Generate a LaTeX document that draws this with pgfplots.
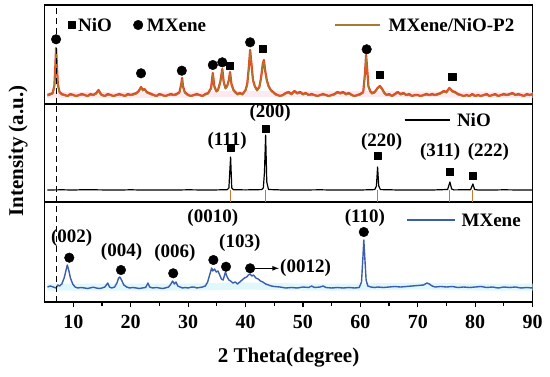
\documentclass[border=0pt]{standalone}
\usepackage{pgfplots}
\pgfplotsset{compat=1.18}
\usepackage{fontspec}
\setmainfont{Liberation Serif}
\definecolor{cRed}{HTML}{E8431E}
\definecolor{cBrown}{HTML}{A87A30}
\definecolor{cBlue}{HTML}{3A5DAE}
\definecolor{cHaloB}{HTML}{D8F5FB}
\definecolor{cHaloR}{HTML}{FCE0EA}
\definecolor{cRef}{HTML}{C87832}
\pgfplotsset{
  panel/.style={scale only axis, width=488pt, xmin=5, xmax=90, ymin=0,
    ytick=\empty, axis line style={line width=1.3pt}, clip=false,
    every axis plot/.append style={line join=round}},
  nolab/.style={xtick=\empty}
}
\begin{document}
\fontsize{19}{23}\selectfont\bfseries
\begin{tikzpicture}
\path[use as bounding box] (-44.6pt,-74pt) rectangle (505.4pt,302pt);
% ---------------- bottom: MXene ----------------
\begin{axis}[panel, at={(0pt,0pt)}, anchor=south west, height=100pt, ymax=100,
  xtick={10,20,...,90}, minor x tick num=1, tick pos=bottom, xtick align=outside,
  major tick length=5pt, minor tick length=4pt, tick style={line width=1.2pt,black},
  /pgf/number format/assume math mode=true,
  xticklabel style={font=\fontsize{20}{24}\selectfont\bfseries, yshift=-2pt},
  xlabel={2 Theta(degree)}, xlabel style={font=\fontsize{21}{24}\selectfont\bfseries, yshift=-6pt}]
\addplot[cHaloB, line width=7pt, opacity=0.8] coordinates {(5.5,15) (10,15) (20,15) (30,15) (40,16) (50,15) (60,15) (70,16) (80,15) (90,15)};
\addplot[cBlue, line width=1.4pt] coordinates {
(5.5,15) (6.0,16) (6.5,15) (7.0,14) (7.3,17) (7.6,16) (8.0,18) (8.4,24) (8.7,31) (8.95,37) (9.2,32) (9.5,24) (9.9,18) (10.3,15) (10.8,14) (11.3,14.5) (12,14) (12.5,13.5) (13,14.2) (13.5,14.8) (14,14) (14.5,13.5) (15,14) (15.5,15) (16.0,19) (16.3,15) (16.7,14) (17.2,15) (17.6,19) (17.9,24) (18.1,25) (18.4,22) (18.8,17) (19.3,15) (19.8,14) (20.3,14.5) (21,14) (21.5,13.5) (22,14) (22.6,14.5) (23.0,19) (23.3,15) (23.8,14) (24.5,14.5) (25,14) (25.5,13.5) (26,14) (26.6,15) (27.0,18) (27.3,21) (27.6,18) (27.9,20) (28.2,16) (28.6,15) (29,14) (29.5,14.5) (30,14) (30.5,14.8) (31,15) (31.5,14) (32,14.5) (32.5,15) (33,16) (33.4,20) (33.8,28) (34.1,34) (34.3,31) (34.6,33) (34.9,30) (35.2,31) (35.5,27) (35.8,23) (36.1,22) (36.5,30) (36.8,25) (37.1,22) (37.4,21) (37.8,19) (38.2,20) (38.6,18) (39.0,20) (39.4,22) (39.8,24) (40.2,25) (40.5,27) (40.8,28) (41.1,26) (41.4,27) (41.8,24) (42.2,23) (42.6,21) (43.0,20) (43.5,18) (44,17) (44.5,16) (45,15.5) (46,15) (47,14) (48,14.5) (49,14) (50,15) (51,14.5) (51.5,16) (52,14.5) (53,15) (53.5,16) (54,14.5) (55,14) (56,14.5) (57,14) (58,14.5) (59,14) (59.8,14.5) (60.2,20) (60.45,45) (60.6,62) (60.8,42) (61.0,22) (61.3,16) (61.8,15) (62.5,14.5) (63,15) (64,14.5) (65,15) (66,15.5) (67,15) (68,15.5) (69,16) (70,16.5) (71,17) (71.6,19) (72,18) (72.5,16) (73,15) (74,15.5) (75,15) (76,15.5) (77,14.5) (78,15) (79,14.5) (80,15) (81,15.5) (82,14.5) (83,15) (84,14) (85,15) (86,14.5) (87,15) (88,14) (89,14.5) (90,14)};
\addplot[black, line width=1pt, dash pattern=on 6pt off 4pt] coordinates {(7,0) (7,100)};
\addplot[only marks, mark=*, mark size=4.8pt, black] coordinates {(9.3,44.3) (18.3,32) (27.4,28.7) (34.4,42) (36.6,35.3) (40.8,33.7) (60.6,70)};
\draw[->, >=latex, line width=1.2pt] (axis cs:41.6,33.7) -- (axis cs:45.8,33.7);
\node at (axis cs:9.7,64) {(002)};
\node at (axis cs:18.4,50) {(004)};
\node at (axis cs:27.7,49) {(006)};
\node at (axis cs:34.3,84) {(0010)};
\node at (axis cs:39.0,59) {(103)};
\node[anchor=west, inner sep=0pt] at (axis cs:46.0,33.7) {(0012)};
\node at (axis cs:60.8,84) {(110)};
\draw[cBlue, line width=1.4pt] (axis cs:68.1,82) -- (axis cs:76.4,82);
\node[anchor=west, inner sep=0pt] at (axis cs:77.6,82) {MXene};
\end{axis}
% ---------------- middle: NiO ----------------
\begin{axis}[panel, nolab, at={(0pt,100pt)}, anchor=south west, height=98pt, ymax=98]
\addplot[cRef, ycomb, line width=1pt] coordinates {(37.4,12) (43.5,12) (63.0,12) (75.6,12) (79.6,12)};
\addplot[black, line width=1.2pt] coordinates {
(5.5,12) (8,12.2) (10,12) (12,12.3) (15,12.1) (18,12) (20,12.2) (22,12) (25,12.1) (28,12) (30,12.2) (33,12) (35,12.1) (36.8,12.3) (37.1,14) (37.4,45) (37.6,14) (37.9,12.3) (40,12.1) (42.8,12.4) (43.1,14) (43.3,30) (43.5,67) (43.7,20) (44.0,12.5) (46,12.1) (50,12) (53,12.2) (55,12) (58,12.1) (60,12) (62.5,12.4) (62.8,16) (63.0,35) (63.2,16) (63.5,12.4) (66,12.1) (70,12) (73,12.1) (75.2,12.5) (75.6,20) (75.9,13) (76.3,12.1) (79.2,12.3) (79.6,18) (79.9,12.5) (80.4,12.1) (83,12) (85,12.2) (88,12) (90,12.1)};
\addplot[black, line width=1pt, dash pattern=on 6pt off 4pt] coordinates {(7,0) (7,98)};
\addplot[only marks, mark=square*, mark size=3.6pt, black] coordinates {(37.4,54) (43.5,73) (63.0,46) (75.6,30) (79.6,26)};
\node at (axis cs:36.8,61) {(111)};
\node at (axis cs:44.3,89) {(200)};
\node at (axis cs:63.7,60) {(220)};
\node at (axis cs:73.9,50) {(311)};
\node at (axis cs:82.3,50) {(222)};
\draw[black, line width=1.4pt] (axis cs:67.7,82) -- (axis cs:75.7,82);
\node[anchor=west, inner sep=0pt] at (axis cs:76.8,82) {NiO};
\end{axis}
% ---------------- top: MXene/NiO-P2 ----------------
\begin{axis}[panel, nolab, at={(0pt,198pt)}, anchor=south west, height=99pt, ymax=99]
\addplot[cHaloR, line width=6pt, opacity=0.7] coordinates {(5.5,9) (20,9) (40,10) (60,10) (90,9)};
\addplot[cRed, line width=2.2pt] coordinates {
(5.5,9) (6.0,10) (6.4,11) (6.7,18) (6.85,35) (7.0,56) (7.15,38) (7.3,20) (7.6,12) (8.0,10) (8.5,9) (9.0,8) (9.5,10) (10.0,9) (10.5,8) (11.0,9) (11.5,10) (12.0,9) (12.5,8) (13.0,10) (13.5,9) (14.0,11) (14.4,14) (14.8,10) (15.0,9) (15.5,8) (16.0,10) (16.5,9) (17.0,8) (17.5,9) (18.0,10) (18.5,9) (19.0,8) (19.5,10) (20.0,9) (20.5,10) (21.0,11) (21.4,13) (21.8,17) (22.1,14) (22.4,15) (22.8,12) (23.2,11) (23.6,10) (24.0,9) (24.5,8) (25.0,10) (25.5,9) (26.0,8) (26.5,9) (27.0,10) (27.5,9) (28.0,10) (28.5,12) (28.8,20) (28.95,26) (29.1,18) (29.4,12) (29.8,10) (30.0,9) (30.5,8) (31.0,9) (31.5,10) (32.0,9) (32.5,8) (33.0,10) (33.5,11) (34.0,16) (34.3,31) (34.55,18) (34.9,13) (35.2,14) (35.6,22) (35.95,35) (36.2,22) (36.5,16) (36.8,18) (37.1,24) (37.3,32) (37.55,20) (37.9,14) (38.2,12) (38.6,10) (39.0,11) (39.5,10) (40.0,14) (40.3,20) (40.55,35) (40.8,54) (41.0,42) (41.3,24) (41.6,18) (42.0,14) (42.4,17) (42.7,26) (43.0,40) (43.2,44) (43.4,34) (43.7,24) (44.0,18) (44.4,14) (44.8,12) (45.2,10) (45.6,9) (46.0,8) (46.5,9) (47.0,11) (47.5,12) (48.0,10) (48.5,13) (49.0,11) (49.5,12) (50.0,10) (50.5,11) (51.0,9) (51.5,10) (52.0,9) (52.5,8) (53.0,9) (53.5,10) (54.0,9) (54.5,8) (55.0,9) (55.5,10) (56.0,12) (56.5,11) (57.0,12) (57.5,10) (58.0,11) (58.5,9) (59.0,8) (59.5,9) (60.0,10) (60.5,12) (60.8,30) (61.0,49) (61.2,34) (61.4,18) (61.7,13) (62.0,11) (62.5,12) (63.0,16) (63.4,18) (63.8,15) (64.2,11) (64.6,9) (65.0,10) (65.5,8) (66.0,10) (66.5,12) (67.0,10) (67.5,11) (68.0,9) (68.5,10) (69.0,8) (69.5,9) (70.0,9) (70.5,8) (71.0,9) (71.5,10) (72.0,9) (72.5,10) (73.0,9) (73.5,10) (74.0,11) (74.5,13) (75.0,12) (75.5,16) (76.0,13) (76.5,12) (77.0,10) (77.5,9) (78.0,8) (78.5,9) (79.0,8) (79.5,10) (80.0,8) (80.5,9) (81.0,8) (81.5,9) (82.0,10) (82.5,8) (83.0,9) (83.5,10) (84.0,8) (84.5,9) (85.0,10) (85.5,9) (86.0,10) (86.5,11) (87.0,9) (87.5,10) (88.0,9) (88.5,8) (89.0,10) (89.5,9) (90.0,10)};
\addplot[cBrown, line width=1.1pt] coordinates {
(5.5,8) (6.0,9) (6.4,10) (6.7,17) (6.85,34) (7.0,55) (7.15,37) (7.3,19) (7.6,11) (8.0,9) (8.5,8.5) (9.0,7.5) (9.5,9) (10.0,8.5) (10.5,7.5) (11.0,8.5) (11.5,9) (12.0,8.5) (12.5,7.5) (13.0,9) (13.5,8.5) (14.0,10) (14.4,13) (14.8,9) (15.0,8.5) (15.5,7.5) (16.0,9) (16.5,8.5) (17.0,7.5) (17.5,8.5) (18.0,9) (18.5,8.5) (19.0,7.5) (19.5,9) (20.0,8.5) (20.5,9) (21.0,10) (21.4,12) (21.8,16) (22.1,13) (22.4,14) (22.8,11) (23.2,10) (23.6,9) (24.0,8.5) (24.5,7.5) (25.0,9) (25.5,8.5) (26.0,7.5) (26.5,8.5) (27.0,9) (27.5,8.5) (28.0,9) (28.5,11) (28.8,19) (28.95,25) (29.1,17) (29.4,11) (29.8,9) (30.0,8.5) (30.5,7.5) (31.0,8.5) (31.5,9) (32.0,8.5) (32.5,7.5) (33.0,9) (33.5,10) (34.0,15) (34.3,30) (34.55,17) (34.9,12) (35.2,13) (35.6,21) (35.95,34) (36.2,21) (36.5,15) (36.8,17) (37.1,23) (37.3,31) (37.55,19) (37.9,13) (38.2,11) (38.6,9) (39.0,10) (39.5,9) (40.0,13) (40.3,19) (40.55,34) (40.8,53) (41.0,41) (41.3,23) (41.6,17) (42.0,13) (42.4,16) (42.7,25) (43.0,39) (43.2,43) (43.4,33) (43.7,23) (44.0,17) (44.4,13) (44.8,11) (45.2,9) (45.6,8.5) (46.0,7.5) (46.5,8.5) (47.0,10) (47.5,11) (48.0,9) (48.5,12) (49.0,10) (49.5,11) (50.0,9) (50.5,10) (51.0,8.5) (51.5,9) (52.0,8.5) (52.5,7.5) (53.0,8.5) (53.5,9) (54.0,8.5) (54.5,7.5) (55.0,8.5) (55.5,9) (56.0,11) (56.5,10) (57.0,11) (57.5,9) (58.0,10) (58.5,8.5) (59.0,7.5) (59.5,8.5) (60.0,9) (60.5,11) (60.8,29) (61.0,48) (61.2,33) (61.4,17) (61.7,12) (62.0,10) (62.5,11) (63.0,15) (63.4,17) (63.8,14) (64.2,10) (64.6,8.5) (65.0,9) (65.5,7.5) (66.0,9) (66.5,11) (67.0,9) (67.5,10) (68.0,8.5) (68.5,9) (69.0,7.5) (69.5,8.5) (70.0,8.5) (70.5,7.5) (71.0,8.5) (71.5,9) (72.0,8.5) (72.5,9) (73.0,8.5) (73.5,9) (74.0,10) (74.5,12) (75.0,11) (75.5,15) (76.0,12) (76.5,11) (77.0,9) (77.5,8.5) (78.0,7.5) (78.5,8.5) (79.0,7.5) (79.5,9) (80.0,7.5) (80.5,8.5) (81.0,7.5) (81.5,8.5) (82.0,9) (82.5,7.5) (83.0,8.5) (83.5,9) (84.0,7.5) (84.5,8.5) (85.0,9) (85.5,8.5) (86.0,9) (86.5,10) (87.0,8.5) (87.5,9) (88.0,8.5) (88.5,7.5) (89.0,9) (89.5,8.5) (90.0,9)};
\addplot[black, line width=1pt, dash pattern=on 6pt off 4pt] coordinates {(7,0) (7,99)};
\addplot[only marks, mark=*, mark size=4.8pt, black] coordinates {(7.0,64.7) (21.8,30.7) (28.9,33.3) (34.3,39) (35.95,41.7) (40.8,61.7) (61.1,54.7) (21.3,79)};
\addplot[only marks, mark=square*, mark size=3.6pt, black] coordinates {(37.3,38.3) (43.0,55) (63.4,29) (76.0,27.3) (9.7,79)};
\node[anchor=west, inner sep=0pt] at (axis cs:10.8,79) {NiO};
\node[anchor=west, inner sep=0pt] at (axis cs:22.8,79) {MXene};
\draw[cBrown, line width=1.4pt] (axis cs:55.6,79) -- (axis cs:63.4,79);
\node[anchor=west, inner sep=0pt] at (axis cs:64.9,79) {MXene/NiO-P2};
\end{axis}
\node[rotate=90, font=\fontsize{21}{24}\selectfont\bfseries] at (-26.5pt,151pt) {Intensity (a.u.)};
\end{tikzpicture}
\end{document}
